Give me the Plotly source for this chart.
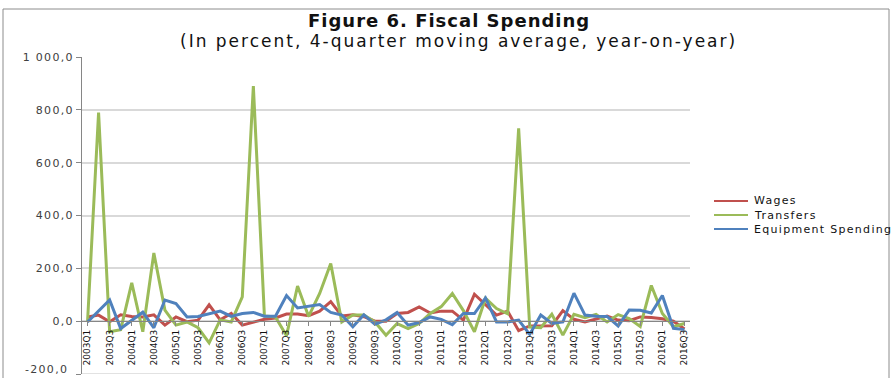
import plotly.graph_objects as go

quarters = [f"{y}Q{q}" for y in range(2003, 2017) for q in range(1, 5)][:55]

wages = [16, 23, -2, 24, 18, 16, 24, -15, 16, -2, 4, 62, 5, 29, -15, -3, 7, 12, 27, 27,
         21, 38, 74, 20, 24, 17, 0, 0, 29, 33, 54, 31, 38, 38, 4, 102, 61, 23, 38, -36,
         -18, -18, -17, 40, 7, -3, 9, 19, 4, 2, 16, 14, 9, 0, -30]
transfers = [-3, 790, -40, -32, 145, -40, 258, 42, -15, -3, -25, -82, 5, -3, 92, 890, 20, 16, -55, 133,
             18, 105, 218, -3, 23, 23, -3, -53, -9, -28, -9, 29, 55, 105, 40, -40, 87, 48, 28, 730,
             -22, -25, 26, -53, 26, 13, 26, -3, 25, 10, -20, 135, 29, -21, -9]
equipment = [-3, 40, 80, -28, 4, 34, -25, 80, 67, 16, 18, 29, 38, 18, 29, 33, 19, 19, 97, 50,
             56, 63, 33, 23, -21, 24, -12, 5, 33, -15, -5, 16, 7, -13, 29, 29, 88, -3, -3, 4,
             -50, 23, -9, -3, 106, 23, 19, 18, -18, 42, 41, 31, 97, -27, -32]

series_names = ["Wages", "Transfers", "Equipment Spending"]
series_colors = ["#C0504D", "#9BBB59", "#4F81BD"]

y_tickvals = [-200, 0, 200, 400, 600, 800, 1000]
y_ticktext = ["-200,0", "0,0", "200,0", "400,0", "600,0", "800,0", "1 000,0"]
x_tickvals = quarters[::2]

title_text = "Figure 6. Fiscal Spending"
subtitle_text = "(In percent, 4-quarter moving average, year-on-year)"

W, H = 894, 378
PL, PR, PT, PB = 82, 690, 57, 374


def px(x):
    return (x - PL) / (PR - PL)


def py(y):
    return (PB - y) / (PB - PT)


def spaced(t, s):
    return f'<span style="letter-spacing:{s}px">{t}</span>'


fig = go.Figure()
for name, vals, col in zip(series_names, [wages, transfers, equipment], series_colors):
    fig.add_trace(go.Scatter(x=quarters, y=vals, mode="lines", name=name,
                             line=dict(color=col, width=3), showlegend=False))

annotations = [
    dict(text="<b>" + spaced(title_text, 1) + "</b>", xref="paper", yref="paper",
         x=px(449), y=py(20), xanchor="center", yanchor="middle", showarrow=False,
         font=dict(size=18, color="#111111")),
    dict(text=spaced(subtitle_text, 2), xref="paper", yref="paper",
         x=px(458), y=py(41), xanchor="center", yanchor="middle", showarrow=False,
         font=dict(size=17, color="#111111")),
    # lowest y tick label, nudged up so it stays inside the page
    dict(text=spaced(y_ticktext[0], 1.3), xref="paper", yref="paper",
         x=px(70), y=py(369), xanchor="right", yanchor="middle", showarrow=False,
         font=dict(size=11, color="#404040")),
]
shapes = [
    dict(type="rect", xref="paper", yref="paper", x0=px(3), x1=px(889), y0=py(390), y1=py(9),
         line=dict(color="#8c8c8c", width=1), layer="below"),
    dict(type="line", xref="paper", yref="y", x0=0, x1=1, y0=-200, y1=-200,
         line=dict(color="#d9d9d9", width=1.5), layer="below"),
]

# custom legend (Excel style, compact spacing)
leg_y = [201, 215, 229]
for name, col, yy in zip(series_names, series_colors, leg_y):
    shapes.append(dict(type="line", xref="paper", yref="paper", x0=px(714), x1=px(748),
                       y0=py(yy), y1=py(yy), line=dict(color=col, width=2)))
    annotations.append(dict(text=spaced(name, 1.3), xref="paper", yref="paper",
                            x=px(752), y=py(yy), xanchor="left", yanchor="middle",
                            showarrow=False, font=dict(size=11, color="#111111")))

fig.update_layout(
    width=W, height=H,
    margin=dict(l=PL, r=W - PR, t=PT, b=H - PB, pad=0, autoexpand=False),
    paper_bgcolor="white", plot_bgcolor="white",
    font=dict(family="DejaVu Sans", color="#404040"),
    showlegend=False,
    annotations=annotations,
    shapes=shapes,
)

fig.update_yaxes(range=[-200, 1000], tickvals=y_tickvals,
                 ticktext=[""] + [spaced(t, 1.3) for t in y_ticktext[1:]],
                 showgrid=True, gridcolor="#d9d9d9", gridwidth=1.5,
                 showline=True, linecolor="#868686", linewidth=1,
                 ticks="outside", ticklen=5, tickcolor="#868686",
                 automargin=False,
                 tickfont=dict(size=11, color="#404040"), zeroline=False)

fig.update_xaxes(type="category", categoryorder="array", categoryarray=quarters,
                 range=[-0.5, len(quarters) - 0.5],
                 tickvals=x_tickvals, ticktext=x_tickvals, tickangle=-90,
                 anchor="free", position=1 / 6, automargin=False,
                 showline=True, linecolor="#868686", linewidth=1,
                 ticks="outside", ticklen=4, tickcolor="#868686",
                 showgrid=False, zeroline=False,
                 tickfont=dict(size=9, color="#111111"))

fig.write_html("out.html")
